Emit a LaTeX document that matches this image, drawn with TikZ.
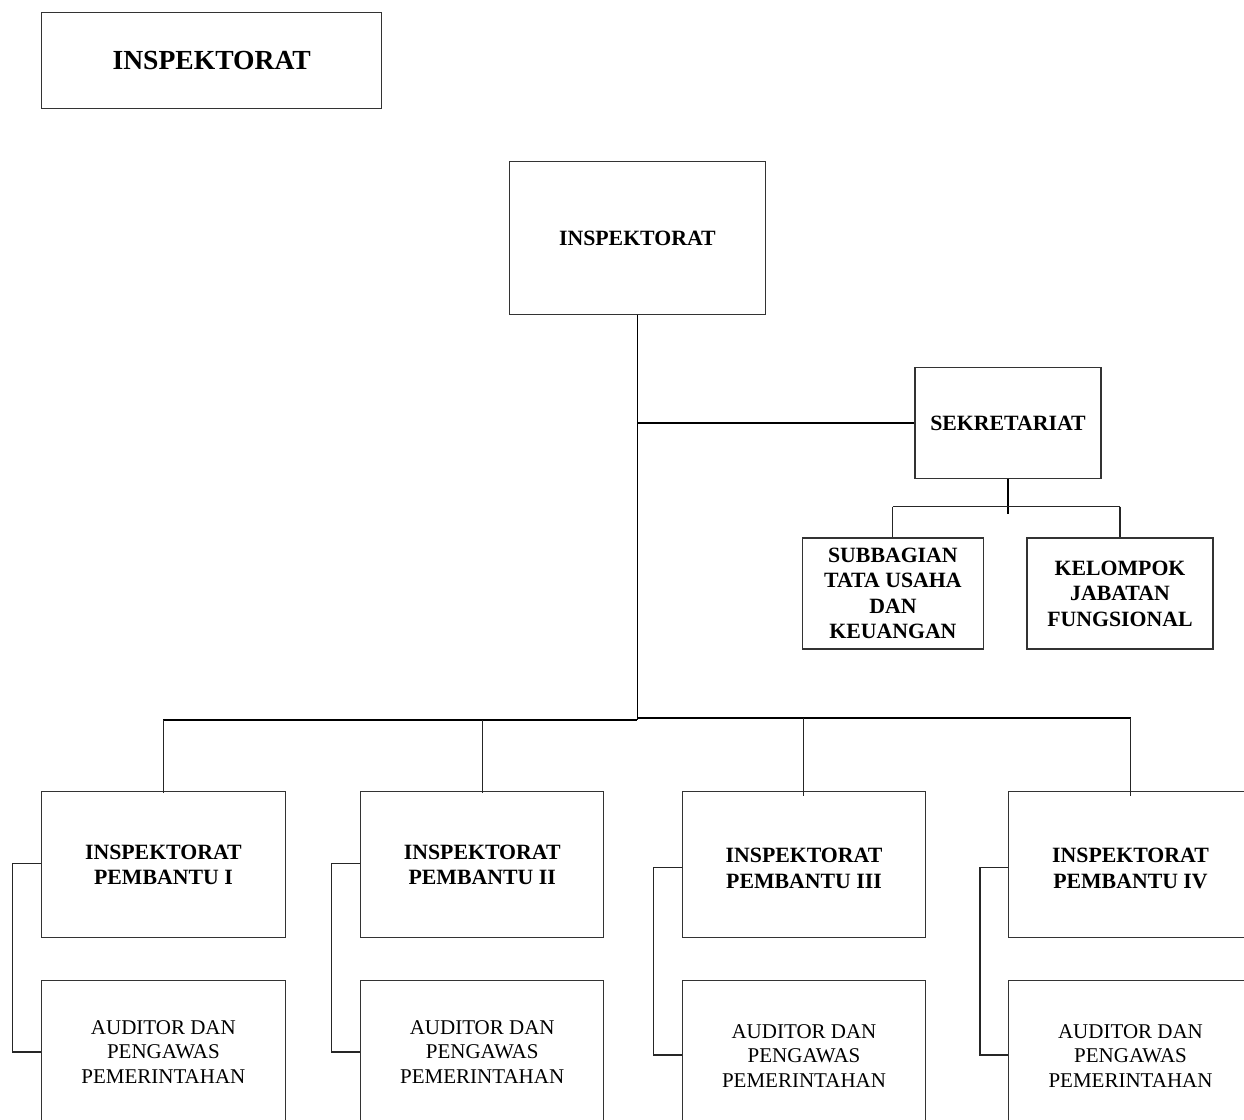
\documentclass[tikz,border=0pt]{standalone}
\usepackage{fontspec}
\setmainfont{Liberation Serif}
\usetikzlibrary{calc}
\begin{document}
\begin{tikzpicture}[x=1pt,y=-1pt,
  box/.style={draw=black!80,line width=1.1pt,rectangle,inner sep=0pt,align=center},
  bt/.style={font=\fontsize{21.8}{25.5}\selectfont\bfseries},
  rt/.style={font=\fontsize{21}{24.5}\selectfont},
  ipbox/.style={box,bt,minimum width=243.3pt,minimum height=146pt},
  aubox/.style={box,rt,minimum width=243.3pt,minimum height=143.5pt},
  conn/.style={draw=black!85,line width=1.1pt},
  heavy/.style={draw=black,line width=1.8pt}]
\useasboundingbox (0,0) rectangle (1244,1119);
\clip (0,0) rectangle (1244,1119);
\fill[white] (0,0) rectangle (1244,1119);

% title box
\node[box,font=\fontsize{27.6}{32}\selectfont\bfseries,minimum width=340pt,minimum height=95.7pt] (tl) at (211.7,60.2) {INSPEKTORAT};

% main
\node[box,bt,minimum width=256.7pt,minimum height=152.3pt] (main) at (637.4,237.9) {INSPEKTORAT};
\node[box,bt,minimum width=186pt,minimum height=111.7pt] (sek) at (1008,423) {SEKRETARIAT};
\node[box,bt,minimum width=180.3pt,minimum height=111pt] (sub) at (892.9,593.5) {SUBBAGIAN\\TATA USAHA\\DAN\\KEUANGAN};
\node[box,bt,minimum width=186pt,minimum height=111pt] (kel) at (1120,593.5) {KELOMPOK\\JABATAN\\FUNGSIONAL};

% inspektorat pembantu
\node[ipbox] (ip1) at (163.4,864.7) {INSPEKTORAT\\PEMBANTU I};
\node[ipbox] (ip2) at (482.2,864.7) {INSPEKTORAT\\PEMBANTU II};
\node[ipbox,label={[bt,align=center,yshift=-3.5pt]center:INSPEKTORAT\\PEMBANTU III}] (ip3) at (804,864.7) {};
\node[ipbox,label={[bt,align=center,yshift=-3.5pt]center:INSPEKTORAT\\PEMBANTU IV}] (ip4) at (1130.5,864.7) {};

\node[aubox] (au1) at (163.4,1052) {AUDITOR DAN\\PENGAWAS\\PEMERINTAHAN};
\node[aubox] (au2) at (482.2,1052) {AUDITOR DAN\\PENGAWAS\\PEMERINTAHAN};
\node[aubox,label={[rt,align=center,yshift=-4pt]center:AUDITOR DAN\\PENGAWAS\\PEMERINTAHAN}] (au3) at (804,1052) {};
\node[aubox,label={[rt,align=center,yshift=-4pt]center:AUDITOR DAN\\PENGAWAS\\PEMERINTAHAN}] (au4) at (1130.5,1052) {};

% coordinates
\coordinate (jl) at (637.4,719.7);
\coordinate (jr) at (637.4,718);
\coordinate (js) at (637.4,423);
\coordinate (sj) at (1008,506.7);

% main trunk
\draw[heavy] (main.south) -- (jl);
\draw[heavy] (js) -- (sek.west);
\draw[heavy] (sek.south) -- ([yshift=-35pt]sek.south);

% sekretariat branches
\draw[conn] (sub.north |- sj) -- (kel.north |- sj);
\draw[conn] (sub.north |- sj) -- (sub.north);
\draw[conn] (kel.north |- sj) -- (kel.north);

% bottom bus
\draw[heavy] (ip1.north |- jl) -- (jl);
\draw[heavy] (jr) -- (ip4.north |- jr);
\draw[conn] (ip1.north |- jl) -- ([yshift=-1.5pt]ip1.north);
\draw[conn] (ip2.north |- jl) -- ([yshift=-1.5pt]ip2.north);
\draw[conn] ([xshift=-0.7pt]ip3.north |- jr) -- ([xshift=-0.7pt,yshift=-5pt]ip3.north);
\draw[conn] (ip4.north |- jr) -- ([yshift=-5pt]ip4.north);

% brackets
\draw[conn] ([yshift=1.4pt]ip1.west) -| ++(-28.4,0) |- (au1.west);
\draw[conn] ([yshift=1.4pt]ip2.west) -| ++(-28.6,0) |- (au2.west);
\draw[conn] ([yshift=-2.6pt]ip3.west) -| ++(-28.6,0) |- ([yshift=-3pt]au3.west);
\draw[conn] ([yshift=-2.6pt]ip4.west) -| ++(-28.3,0) |- ([yshift=-3pt]au4.west);
\end{tikzpicture}
\end{document}
